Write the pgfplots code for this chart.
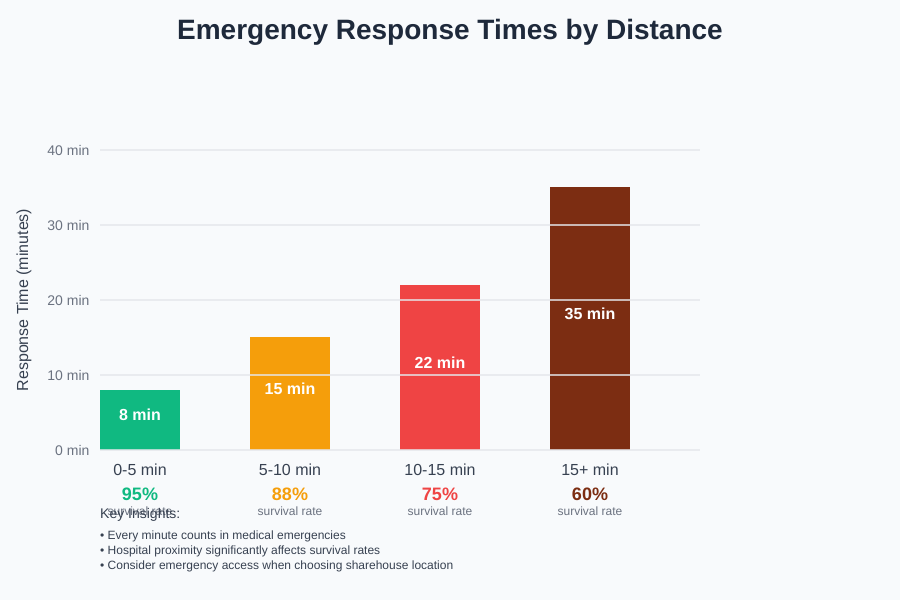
\documentclass[border=0pt]{standalone}
\usepackage{pgfplots}
\pgfplotsset{compat=1.18}
\usepackage{fontspec}
\setmainfont{Liberation Sans}

\definecolor{bgc}{HTML}{F8FAFC}
\definecolor{titlec}{HTML}{1E293B}
\definecolor{textc}{HTML}{374151}
\definecolor{tickc}{HTML}{6B7280}
\definecolor{gridc}{HTML}{E5E7EB}
\definecolor{cgreen}{HTML}{10B981}
\definecolor{corange}{HTML}{F59E0B}
\definecolor{cred}{HTML}{EF4444}
\definecolor{cbrown}{HTML}{7C2D12}

\begin{document}
\begin{tikzpicture}[x=1pt,y=1pt]
\fill[bgc] (0,0) rectangle (900,600);
\useasboundingbox (0,0) rectangle (900,600);

\node[font=\fontsize{28}{34}\selectfont\bfseries, text=titlec] at (450,568) {Emergency Response Times by Distance};
\node[rotate=90, font=\fontsize{16}{19}\selectfont, text=textc] at (24,300) {Response Time (minutes)};

\begin{axis}[
    at={(100pt,150pt)}, anchor=south west,
    width=600pt, height=300pt, scale only axis,
    xmin=-0.266667, xmax=3.733333,
    ymin=0, ymax=40,
    ytick={0,10,20,30,40},
    yticklabel={\pgfmathprintnumber{\tick} min},
    yticklabel style={font=\fontsize{14}{17}\selectfont, text=tickc, xshift=-7pt},
    /pgf/number format/assume math mode=true,
    xtick=\empty,
    axis line style={draw=none},
    major tick length=0pt,
    ymajorgrids,
    major grid style={draw=gridc, line width=1.2pt, opacity=0.75},
    axis on top,
    ybar, bar width=80pt,
    clip=false,
]
\addplot[ybar, bar shift=0pt, fill=cgreen, draw=none] coordinates {(0,8)};
\addplot[ybar, bar shift=0pt, fill=corange, draw=none] coordinates {(1,15)};
\addplot[ybar, bar shift=0pt, fill=cred, draw=none] coordinates {(2,22)};
\addplot[ybar, bar shift=0pt, fill=cbrown, draw=none] coordinates {(3,35)};

\begin{scope}[every node/.style={text=white, font=\fontsize{16}{19}\selectfont\bfseries, anchor=base, yshift=-1pt}]
\node at (axis cs:0,4) {8 min};
\node at (axis cs:1,7.5) {15 min};
\node at (axis cs:2,11) {22 min};
\node at (axis cs:3,17.5) {35 min};
\end{scope}

\foreach \i/\lab/\pct/\col in {0/0-5 min/95/cgreen, 1/5-10 min/88/corange, 2/10-15 min/75/cred, 3/15+ min/60/cbrown}{
  \edef\temp{\noexpand\node[font=\noexpand\fontsize{16}{19}\noexpand\selectfont, text=textc] at (axis cs:\i,0) [yshift=-20pt] {\lab};
  \noexpand\node[font=\noexpand\fontsize{18}{22}\noexpand\selectfont\noexpand\bfseries, text=\col] at (axis cs:\i,0) [yshift=-44pt] {\pct\noexpand\%};
  \noexpand\node[font=\noexpand\fontsize{12}{14}\noexpand\selectfont, text=tickc] at (axis cs:\i,0) [yshift=-61pt] {survival rate};}
  \temp
}
\end{axis}

\node[anchor=west, inner sep=0pt, font=\fontsize{14}{17}\selectfont, text=textc] at (100,85) {Key Insights:};
\begin{scope}[every node/.style={anchor=west, inner sep=0pt, font=\fontsize{12}{14}\selectfont, text=textc}]
\node at (100,64) {• Every minute counts in medical emergencies};
\node at (100,49) {• Hospital proximity significantly affects survival rates};
\node at (100,34) {• Consider emergency access when choosing sharehouse location};
\end{scope}
\end{tikzpicture}
\end{document}
